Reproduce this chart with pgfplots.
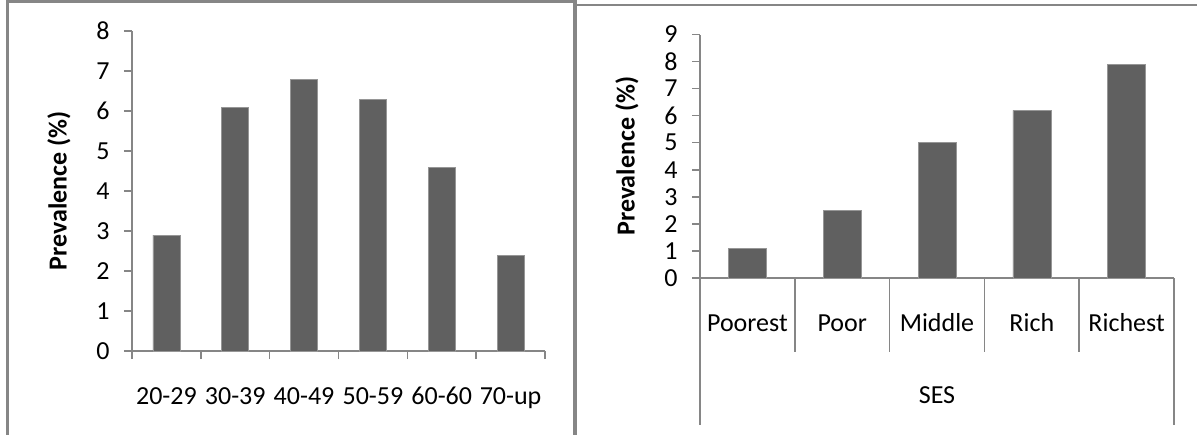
\documentclass[border=0pt]{standalone}
\usepackage{fontspec}
\setmainfont{Carlito}
\usepackage{pgfplots}
\pgfplotsset{compat=1.18}

\definecolor{framegray}{RGB}{134,134,134}
\definecolor{bargray}{RGB}{96,96,96}
\definecolor{baredge}{RGB}{150,150,150}
\newcommand{\chartfont}{\fontsize{26bp}{31bp}\selectfont}

\pgfplotsset{
  excelbar/.style={
    scale only axis,
    axis lines*=left,
    axis line style={framegray, line width=1.5bp},
    ymin=0,
    ybar,
    tick align=outside,
    major tick length=8bp,
    tick style={framegray, line width=1.5bp},
    tick label style={font=\chartfont},
    /pgf/number format/assume math mode=true,
    x tick label as interval,
    yticklabel style={anchor=east, xshift=-11bp},
    xticklabel style={anchor=base, yshift=-45bp},
    ylabel style={font=\chartfont\bfseries, anchor=center},
    clip=false,
  }
}

\begin{document}
\begin{tikzpicture}
\path[use as bounding box] (0,0) rectangle (1197bp,435bp);

% left panel: age groups
\begin{axis}[excelbar,
  at={(132bp,84bp)}, anchor=south west,
  width=413bp, height=320bp,
  xmin=0.5, xmax=6.5, ymax=8,
  xtick={0.5,1.5,...,6.5},
  xticklabels={20-29,30-39,40-49,50-59,60-60,70-up},
  ytick={0,1,...,8},
  bar width=27bp,
  ylabel={Prevalence (\%)},
  ylabel style={at={(axis description cs:-0.177,0.5)}},
]
\addplot[fill=bargray, draw=baredge, line width=0.6bp] coordinates
{
  (1,2.9)
  (2,6.1)
  (3,6.8)
  (4,6.3)
  (5,4.6)
  (6,2.4)
};
\end{axis}

% right panel: SES
\begin{axis}[excelbar,
  at={(700bp,157bp)}, anchor=south west,
  width=474bp, height=243.5bp,
  xmin=0.5, xmax=5.5, ymax=9,
  xtick={0.5,1.5,...,5.5},
  xticklabels={Poorest,Poor,Middle,Rich,Richest},
  xtick style={draw=none},
  ytick={0,1,...,9},
  bar width=38bp,
  ylabel={Prevalence (\%)},
  ylabel style={at={(axis description cs:-0.154,0.5)}},
  xlabel={SES},
  xlabel style={font=\chartfont, anchor=center, at={(axis description cs:0.5,-0.4805)}},
]
\addplot[fill=bargray, draw=baredge, line width=0.6bp] coordinates
{
  (1,1.1)
  (2,2.5)
  (3,5.0)
  (4,6.2)
  (5,7.9)
};
\pgfplotsinvokeforeach{1.5,2.5,3.5,4.5}{
  \draw[framegray, line width=1.5bp] (axis cs:#1,0) -- ++(0pt,-74bp);
}
\draw[framegray, line width=1.5bp] (axis cs:0.5,0) -- ++(0pt,-147bp);
\draw[framegray, line width=1.5bp] (axis cs:5.5,0) -- ++(0pt,-147bp);
\end{axis}

% panel frames
\draw[framegray, line width=3bp] (7.5bp,0) -- (7.5bp,433.5bp);
\draw[framegray, line width=2.5bp] (6bp,433.5bp) -- (575bp,433.5bp);
\draw[framegray, line width=4bp] (575bp,0) -- (575bp,435bp);
\draw[framegray, line width=2bp] (577bp,430bp) -- (1197bp,430bp);
\end{tikzpicture}
\end{document}
